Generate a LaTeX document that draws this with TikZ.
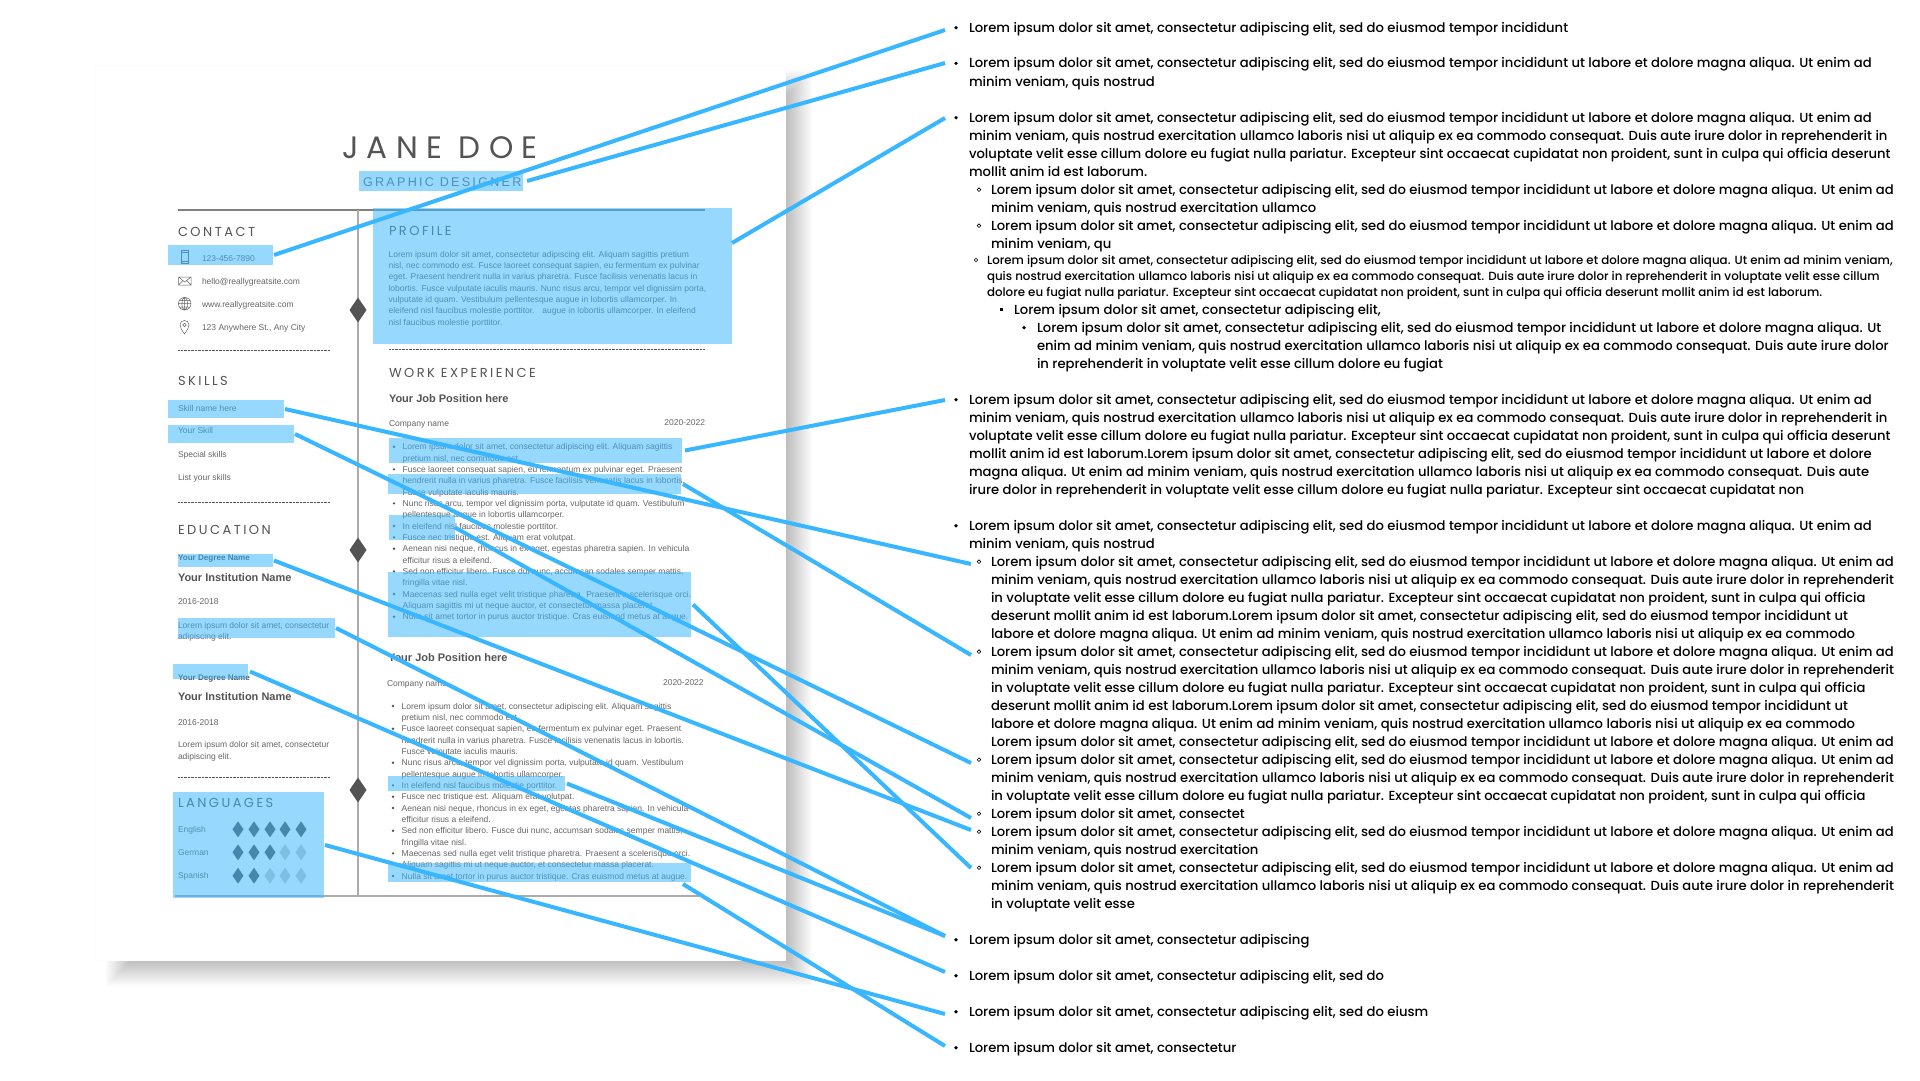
\documentclass[tikz,border=0pt]{standalone}
\usepackage{fontspec}
\setmainfont{Liberation Sans}
\newfontfamily\rfont{Poppins Medium}
\newfontfamily\hfont[LetterSpace=19]{Poppins}
\newfontfamily\hfontb[LetterSpace=27]{Poppins}
\newfontfamily\gfont[LetterSpace=18]{Liberation Sans}
\definecolor{hlblue}{HTML}{38B6FF}
\definecolor{ink}{HTML}{545454}
\definecolor{soft}{HTML}{666666}
\newcounter{tn}
\newcommand\fs[1]{\fontsize{#1}{#1}\selectfont}
\tikzset{
  txt/.style={inner sep=0pt,outer sep=0pt,anchor=base west},
  hl/.style={fill=hlblue,fill opacity=.52,draw=none,inner sep=0pt,outer sep=0pt,anchor=north west},
  conn/.style={draw=hlblue,line width=4pt,line cap=butt},
  rule/.style={draw=#1,line width=1.4pt},
  dotrule/.style={draw=ink,line width=.6pt,dash pattern=on 1pt off .4pt},
  dmd/.style={diamond,aspect=.68,fill=#1,draw=none,inner sep=0pt,outer sep=0pt},
  icon/.style={draw=soft,line width=.5pt},
  rbullet/.style={circle,fill=black,inner sep=0pt,minimum size=3.6pt},
  rring/.style={circle,draw=black,line width=.6pt,inner sep=0pt,minimum size=3.6pt},
  rsq/.style={rectangle,fill=black,inner sep=0pt,minimum size=3pt},
  lbullet/.style={circle,fill=ink,inner sep=0pt,minimum size=2.6pt},
}
\usetikzlibrary{shapes.geometric}
% generic text line
\newcommand\tl[4]{\stepcounter{tn}\node[txt,font=#1] (t\thetn) at (#2,#3) {#4};}
\newcommand\hlb[5]{\node[hl,minimum width=#4pt-#2pt,minimum height=#5pt-#3pt] (#1) at (#2,#3) {};}
% resume styles
\newcommand\body{\fs{8.5}\color{soft}}
\newcommand\head{\hfont\fs{13}\color{ink}}
\newcommand\bold{\fs{11}\bfseries\color{ink}}
% right column
\newcommand\rs{\rfont\fs{13.16}\color{black}}
\newcommand\rss{\rfont\fs{11.85}\color{black}}
\newcommand\LA{Lorem ipsum dolor sit amet, consectetur adipiscing elit, sed do eiusmod tempor incididunt ut labore et dolore magna aliqua. Ut enim ad}
\newcommand\LB{minim veniam, quis nostrud exercitation ullamco laboris nisi ut aliquip ex ea commodo consequat. Duis aute irure dolor in reprehenderit}
\newcommand\rbu[2]{\stepcounter{tn}\node[rbullet] (t\thetn) at (#1,#2) {};}
\newcommand\rci[2]{\stepcounter{tn}\node[rring] (t\thetn) at (#1,#2) {};}
\newcommand\rsqr[2]{\stepcounter{tn}\node[rsq] (t\thetn) at (#1,#2) {};}
\newcommand\la[2]{\tl{\rs}{969}{#1}{#2}}
\newcommand\lb[2]{\tl{\rs}{991}{#1}{#2}}
\begin{document}
\begin{tikzpicture}[x=1pt,y=-1pt]
\useasboundingbox (0,0) rectangle (1920,1080);
\fill[white] (0,0) rectangle (1920,1080);
% soft shadow of the sheet
\foreach \i in {-14,-12,...,14}{
  \fill[black,opacity=.021] (120-\i,84-\i) rectangle (798+\i,972+\i);
}
% sheet
\node[fill=white,draw=black!1,line width=.5pt,inner sep=0pt,anchor=north west,minimum width=690pt,minimum height=895pt] (sheet) at (95,65) {};
% title
\node[txt,font={\hfontb\fs{31}\color{ink}}] (name) at (342,158) {JANE DOE};
\node[txt,font={\gfont\fs{12.6}\color{soft}}] (role) at (363,186) {GRAPHIC DESIGNER};
% rules
\coordinate (r1) at (178,210); \coordinate (r2) at (705,210);
\coordinate (r3) at (358,210); \coordinate (r4) at (358,896);
\coordinate (r5) at (175,896); \coordinate (r6) at (699,896);
\draw[rule=black!50] (r1) -- (r2);
\draw[rule=black!33] (r3) -- (r4);
\draw[rule=black!33] (r5) -- (r6);
\node[dmd=ink,minimum width=17pt,minimum height=25pt] (d1) at (358,310) {};
\node[dmd=ink,minimum width=17pt,minimum height=25pt] (d2) at (358,550) {};
\node[dmd=ink,minimum width=17pt,minimum height=25pt] (d3) at (358,790) {};
% left column
\tl{\head}{178}{236}{CONTACT}
\tl{\body}{202}{261.5}{123-456-7890}
\tl{\body}{202}{284.5}{hello@reallygreatsite.com}
\tl{\body}{202}{307.5}{www.reallygreatsite.com}
\tl{\body}{202}{330.5}{123 Anywhere St., Any City}
% icons
\draw[icon] (181,250) rectangle (188,263);
\draw[icon] (181,252) -- (188,252) (181,261) -- (188,261);
\draw[icon] (178.5,277) rectangle (191,285) (178.5,277) -- (184.7,282) -- (191,277) (178.5,285) -- (183,280.5) (191,285) -- (186.4,280.5);
\draw[icon] (184.7,303.7) circle (6.3) (184.7,303.7) ellipse (2.8 and 6.3) (178.4,303.7) -- (191,303.7) (179.2,300.5) -- (190.2,300.5) (179.2,307) -- (190.2,307) (184.7,297.4) -- (184.7,310);
\draw[icon] (184.5,334) .. controls (182,330) and (180,328) .. (180,325) .. controls (180,319) and (189,319) .. (189,325) .. controls (189,328) and (187,330) .. (184.5,334) -- cycle;
\draw[icon] (184.5,325) circle (1.7);
\coordinate (dl1a) at (178,350); \coordinate (dl1b) at (330,350);
\draw[dotrule] (dl1a) -- (dl1b);
\tl{\head}{178}{385}{SKILLS}
\tl{\body}{178}{411}{Skill name here}
\tl{\body}{178}{433.5}{Your Skill}
\tl{\body}{178}{457}{Special skills}
\tl{\body}{178}{480}{List your skills}
\coordinate (dl2a) at (178,502); \coordinate (dl2b) at (330,502);
\draw[dotrule] (dl2a) -- (dl2b);
\tl{\head}{178}{534.7}{EDUCATION}
\tl{{\fs{8.1}\bfseries\color{ink}}}{178}{560}{Your Degree Name}
\tl{\bold}{178}{581}{Your Institution Name}
\tl{\body}{178}{604.7}{2016-2018}
\tl{\body}{178}{628}{Lorem ipsum dolor sit amet, consectetur}
\tl{\body}{178}{639.3}{adipiscing elit.}
\tl{{\fs{8.1}\bfseries\color{ink}}}{178}{680}{Your Degree Name}
\tl{\bold}{178}{700.7}{Your Institution Name}
\tl{\body}{178}{725}{2016-2018}
\tl{\body}{178}{747.7}{Lorem ipsum dolor sit amet, consectetur}
\tl{\body}{178}{759}{adipiscing elit.}
\coordinate (dl3a) at (178,777); \coordinate (dl3b) at (330,777);
\draw[dotrule] (dl3a) -- (dl3b);
\tl{\head}{178}{807.3}{LANGUAGES}
\tl{\body}{178}{832.7}{English}
\tl{\body}{178}{855.7}{German}
\tl{\body}{178}{878.7}{Spanish}
\foreach \y/\n in {829.3/5,852.3/3,875.7/2}{
  \foreach \x [count=\k] in {238,254,270,285,301}{
    \ifnum\k>\n
      \node[dmd=black!22,minimum width=11pt,minimum height=16pt] (ld\x-\k) at (\x,\y) {};
    \else
      \node[dmd=ink,minimum width=11pt,minimum height=16pt] (ld\x-\k) at (\x,\y) {};
    \fi
  }
}
% right resume column
\tl{\head}{389}{235}{PROFILE}
\tl{\body}{388.6}{257.3}{Lorem ipsum dolor sit amet, consectetur adipiscing elit. Aliquam sagittis pretium}
\tl{\body}{388.6}{268.5}{nisl, nec commodo est. Fusce laoreet consequat sapien, eu fermentum ex pulvinar}
\tl{\body}{388.6}{279.8}{eget. Praesent hendrerit nulla in varius pharetra. Fusce facilisis venenatis lacus in}
\tl{\body}{388.6}{291}{lobortis. Fusce vulputate iaculis mauris. Nunc risus arcu, tempor vel dignissim porta,}
\tl{\body}{388.6}{302.3}{vulputate id quam. Vestibulum pellentesque augue in lobortis ullamcorper. In}
\tl{\body}{388.6}{313.5}{eleifend nisl faucibus molestie porttitor. \ \ augue in lobortis ullamcorper. In eleifend}
\tl{\body}{388.6}{325}{nisl faucibus molestie porttitor.}
\coordinate (dl4a) at (389,349.7); \coordinate (dl4b) at (705,349.7);
\draw[dotrule] (dl4a) -- (dl4b);
\tl{\head}{389}{377}{WORK EXPERIENCE}
\tl{\bold}{389}{402}{Your Job Position here}
\tl{\body}{389}{426.7}{Company name}
\stepcounter{tn}\node[txt,anchor=base east,font=\body] (t\thetn) at (705,425) {2020-2022};
\foreach \y/\s in {449.7/{Lorem ipsum dolor sit amet, consectetur adipiscing elit. Aliquam sagittis},
 461/{pretium nisl, nec commodo est.},
 472.3/{Fusce laoreet consequat sapien, eu fermentum ex pulvinar eget. Praesent},
 483.7/{hendrerit nulla in varius pharetra. Fusce facilisis venenatis lacus in lobortis.},
 495/{Fusce vulputate iaculis mauris.},
 506.3/{Nunc risus arcu, tempor vel dignissim porta, vulputate id quam. Vestibulum},
 517.7/{pellentesque augue in lobortis ullamcorper.},
 529/{In eleifend nisl faucibus molestie porttitor.},
 540.3/{Fusce nec tristique est. Aliquam erat volutpat.},
 551.7/{Aenean nisi neque, rhoncus in ex eget, egestas pharetra sapien. In vehicula},
 563/{efficitur risus a eleifend.},
 574.3/{Sed non efficitur libero. Fusce dui nunc, accumsan sodales semper mattis,},
 585.7/{fringilla vitae nisl.},
 597/{Maecenas sed nulla eget velit tristique pharetra. Praesent a scelerisque orci.},
 608.3/{Aliquam sagittis mi ut neque auctor, et consectetur massa placerat.},
 619.7/{Nulla sit amet tortor in purus auctor tristique. Cras euismod metus at augue.}}{
  \node[txt,font=\body] (ja\y) at (402.7,\y) {\s};
}
\foreach \y in {446.7,469.3,503.3,526,537.3,548.7,571.3,594,616.7}{\node[lbullet] (jb\y) at (394,\y) {};}
\tl{\bold}{388}{661.7}{Your Job Position here}
\tl{\body}{387}{686}{Company name}
\stepcounter{tn}\node[txt,anchor=base east,font=\body] (t\thetn) at (703.7,685) {2020-2022};
\foreach \y/\s in {709/{Lorem ipsum dolor sit amet, consectetur adipiscing elit. Aliquam sagittis},
 720.3/{pretium nisl, nec commodo est.},
 731.7/{Fusce laoreet consequat sapien, eu fermentum ex pulvinar eget. Praesent},
 743/{hendrerit nulla in varius pharetra. Fusce facilisis venenatis lacus in lobortis.},
 754.3/{Fusce vulputate iaculis mauris.},
 765.7/{Nunc risus arcu, tempor vel dignissim porta, vulputate id quam. Vestibulum},
 777/{pellentesque augue in lobortis ullamcorper.},
 788.3/{In eleifend nisl faucibus molestie porttitor.},
 799.7/{Fusce nec tristique est. Aliquam erat volutpat.},
 811/{Aenean nisi neque, rhoncus in ex eget, egestas pharetra sapien. In vehicula},
 822.3/{efficitur risus a eleifend.},
 833.7/{Sed non efficitur libero. Fusce dui nunc, accumsan sodales semper mattis,},
 845/{fringilla vitae nisl.},
 856.3/{Maecenas sed nulla eget velit tristique pharetra. Praesent a scelerisque orci.},
 867.7/{Aliquam sagittis mi ut neque auctor, et consectetur massa placerat.},
 879/{Nulla sit amet tortor in purus auctor tristique. Cras euismod metus at augue.}}{
  \node[txt,font=\body] (jc\y) at (401.7,\y) {\s};
}
\foreach \y in {706,728.7,762.7,785.3,796.7,808,830.7,853.3,876}{\node[lbullet] (jd\y) at (393,\y) {};}
% highlight boxes
\hlb{hTitle}{359}{171}{523}{191}
\hlb{hContact}{168}{245}{273}{265}
\hlb{hProfile}{373}{208}{732}{344}
\hlb{hWorkA}{389}{438}{682}{463}
\hlb{hSkillA}{168}{400}{284}{418}
\hlb{hSkillB}{168}{425}{294}{443}
\hlb{hWorkB}{388}{474}{681}{494}
\hlb{hWorkC}{389}{515}{455}{540}
\hlb{hWorkD}{388}{572}{691}{637}
\hlb{hDegA}{178}{554}{273}{567}
\hlb{hEdu}{178}{618}{335}{638}
\hlb{hDegB}{173}{664}{248}{679}
\hlb{hWorkE}{388}{776}{565}{791}
\hlb{hLang}{173}{792}{324}{898}
\hlb{hWorkF}{388}{863}{691}{882}
% connector ends
\coordinate (e1) at (945,30);
\coordinate (e2) at (945,63);
\coordinate (e3) at (945,118);
\coordinate (e4) at (945,400);
\coordinate (e5) at (971,564);
\coordinate (e6) at (971,655);
\coordinate (e7) at (971,763);
\coordinate (e8) at (971,818);
\coordinate (e9) at (971,830);
\coordinate (e10) at (971,868);
\coordinate (e11) at (945,936);
\coordinate (e12) at (945,972);
\coordinate (e13) at (945,1014);
\coordinate (e14) at (945,1046);
\draw[conn] ([xshift=1pt]hContact.east) -- (e1);
\draw[conn] ([xshift=4pt]hTitle.east) -- (e2);
\draw[conn] ([yshift=33pt]hProfile.east) -- (e3);
\draw[conn] ([xshift=3pt]hWorkA.east) -- (e4);
\draw[conn] ([xshift=1pt]hSkillA.east) -- (e5);
\draw[conn] ([xshift=2pt]hWorkB.east) -- (e6);
\draw[conn] ([xshift=1pt]hSkillB.east) -- (e7);
\draw[conn] (hWorkC.east) -- (e8);
\draw[conn] ([xshift=1pt]hDegA.east) -- (e9);
\draw[conn] ([xshift=2pt]hWorkD.east) -- (e10);
\draw[conn] ([xshift=1pt]hEdu.east) -- (e11);
\draw[conn] ([xshift=2pt]hWorkE.east) -- (e11);
\draw[conn] ([xshift=2pt]hDegB.east) -- (e12);
\draw[conn] ([xshift=1pt]hLang.east) -- (e13);
\draw[conn] ([xshift=-8pt,yshift=-2pt]hWorkF.south east) -- (e14);
% right text
\rbu{956}{27.7}\la{32.2}{Lorem ipsum dolor sit amet, consectetur adipiscing elit, sed do eiusmod tempor incididunt}
\rbu{956}{63.3}\la{67.8}{\LA}\la{86.2}{minim veniam, quis nostrud}
\rbu{956}{117.7}\la{122.2}{\LA}
\la{140.2}{minim veniam, quis nostrud exercitation ullamco laboris nisi ut aliquip ex ea commodo consequat. Duis aute irure dolor in reprehenderit in}
\la{158.2}{voluptate velit esse cillum dolore eu fugiat nulla pariatur. Excepteur sint occaecat cupidatat non proident, sunt in culpa qui officia deserunt}
\la{176.2}{mollit anim id est laborum.}
\rci{979}{189.7}\lb{194.2}{\LA}\lb{212.2}{minim veniam, quis nostrud exercitation ullamco}
\rci{979}{225.7}\lb{230.2}{\LA}\lb{248.2}{minim veniam, qu}
\rci{976}{260}\tl{\rss}{987}{264.3}{Lorem ipsum dolor sit amet, consectetur adipiscing elit, sed do eiusmod tempor incididunt ut labore et dolore magna aliqua. Ut enim ad minim veniam,}
\tl{\rss}{987}{280.3}{quis nostrud exercitation ullamco laboris nisi ut aliquip ex ea commodo consequat. Duis aute irure dolor in reprehenderit in voluptate velit esse cillum}
\tl{\rss}{987}{296.3}{dolore eu fugiat nulla pariatur. Excepteur sint occaecat cupidatat non proident, sunt in culpa qui officia deserunt mollit anim id est laborum.}
\rsqr{1001}{309.7}\tl{\rs}{1014}{314.2}{Lorem ipsum dolor sit amet, consectetur adipiscing elit,}
\rbu{1024}{327.7}\tl{\rs}{1037}{332.2}{Lorem ipsum dolor sit amet, consectetur adipiscing elit, sed do eiusmod tempor incididunt ut labore et dolore magna aliqua. Ut}
\tl{\rs}{1037}{350.2}{enim ad minim veniam, quis nostrud exercitation ullamco laboris nisi ut aliquip ex ea commodo consequat. Duis aute irure dolor}
\tl{\rs}{1037}{368.2}{in reprehenderit in voluptate velit esse cillum dolore eu fugiat}
\rbu{956}{399.7}\la{404.2}{\LA}
\la{422.2}{minim veniam, quis nostrud exercitation ullamco laboris nisi ut aliquip ex ea commodo consequat. Duis aute irure dolor in reprehenderit in}
\la{440.2}{voluptate velit esse cillum dolore eu fugiat nulla pariatur. Excepteur sint occaecat cupidatat non proident, sunt in culpa qui officia deserunt}
\la{458.2}{mollit anim id est laborum.Lorem ipsum dolor sit amet, consectetur adipiscing elit, sed do eiusmod tempor incididunt ut labore et dolore}
\la{476.2}{magna aliqua. Ut enim ad minim veniam, quis nostrud exercitation ullamco laboris nisi ut aliquip ex ea commodo consequat. Duis aute}
\la{494.2}{irure dolor in reprehenderit in voluptate velit esse cillum dolore eu fugiat nulla pariatur. Excepteur sint occaecat cupidatat non}
\rbu{956}{525.7}\la{530.2}{\LA}\la{548.2}{minim veniam, quis nostrud}
\rci{979}{561.7}\lb{566.2}{\LA}\lb{584.2}{\LB}
\lb{602.2}{in voluptate velit esse cillum dolore eu fugiat nulla pariatur. Excepteur sint occaecat cupidatat non proident, sunt in culpa qui officia}
\lb{620.2}{deserunt mollit anim id est laborum.Lorem ipsum dolor sit amet, consectetur adipiscing elit, sed do eiusmod tempor incididunt ut}
\lb{638.2}{labore et dolore magna aliqua. Ut enim ad minim veniam, quis nostrud exercitation ullamco laboris nisi ut aliquip ex ea commodo}
\rci{979}{651.7}\lb{656.2}{\LA}\lb{674.2}{\LB}
\lb{692.2}{in voluptate velit esse cillum dolore eu fugiat nulla pariatur. Excepteur sint occaecat cupidatat non proident, sunt in culpa qui officia}
\lb{710.2}{deserunt mollit anim id est laborum.Lorem ipsum dolor sit amet, consectetur adipiscing elit, sed do eiusmod tempor incididunt ut}
\lb{728.2}{labore et dolore magna aliqua. Ut enim ad minim veniam, quis nostrud exercitation ullamco laboris nisi ut aliquip ex ea commodo}
\lb{746.2}{\LA}
\rci{979}{759.7}\lb{764.2}{\LA}\lb{782.2}{\LB}
\lb{800.2}{in voluptate velit esse cillum dolore eu fugiat nulla pariatur. Excepteur sint occaecat cupidatat non proident, sunt in culpa qui officia}
\rci{979}{813.7}\lb{818.2}{Lorem ipsum dolor sit amet, consectet}
\rci{979}{831.7}\lb{836.2}{\LA}\lb{854.2}{minim veniam, quis nostrud exercitation}
\rci{979}{867.7}\lb{872.2}{\LA}\lb{890.2}{\LB}\lb{908.2}{in voluptate velit esse}
\rbu{956}{939.7}\la{944.2}{Lorem ipsum dolor sit amet, consectetur adipiscing}
\rbu{956}{975.7}\la{980.2}{Lorem ipsum dolor sit amet, consectetur adipiscing elit, sed do}
\rbu{956}{1011.7}\la{1016.2}{Lorem ipsum dolor sit amet, consectetur adipiscing elit, sed do eiusm}
\rbu{956}{1047.7}\la{1052.2}{Lorem ipsum dolor sit amet, consectetur}
\end{tikzpicture}
\end{document}
